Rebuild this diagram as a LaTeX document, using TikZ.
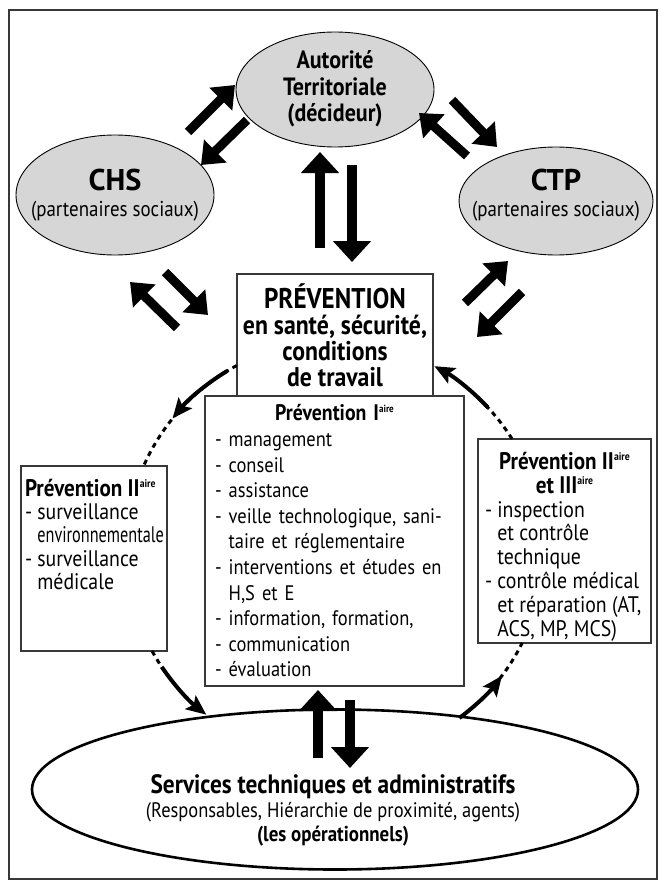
\documentclass[tikz,border=0pt]{standalone}
\usepackage{fontspec}
\usepackage{graphicx}
\setmainfont{PT Sans}[FakeStretch=0.88]
\usetikzlibrary{arrows.meta,shapes.geometric,calc}
\definecolor{shade}{gray}{0.84}
\definecolor{edge}{gray}{0.22}
\newcommand{\fsz}[2]{\fontsize{#1}{#2}\selectfont}
% small raised ordinal suffix, top aligned with the capitals
\newcommand{\aire}{\raisebox{0.36em}{\fontsize{0.46em}{1em}\selectfont aire}}
\newcommand{\ind}{\hphantom{- }}
\begin{document}
\begin{tikzpicture}[x=1pt,y=1pt,
  every node/.style={inner sep=0pt, outer sep=0pt},
  ell/.style={ellipse, draw=black, line width=0.9pt, fill=shade},
  pbox/.style={rectangle, draw=edge, line width=1.3pt, fill=white},
  fatarrow/.style={line width=10pt, -{Triangle[width=37pt,length=21pt]}},
  slantarrow/.style={line width=9pt, -{Triangle[width=31pt,length=20pt]}},
  cyclearrow/.style={line width=4pt, -{Stealth[length=20pt,width=17pt,inset=4pt]}},
  cycledash/.style={line width=3pt, dash pattern=on 5pt off 4.5pt},
]
\useasboundingbox (0,0) rectangle (663,-888);
% outer frame
\draw[edge, line width=1.4pt] (9,-10) rectangle (657,-879);

% decision and social partner bodies
\node[ell, minimum width=198pt, minimum height=115pt] (aut) at (335,-89.5) {};
\node[align=center, font=\fsz{25}{26.5}\bfseries] (autt) at (335,-89) {Autorité\\Territoriale\\(décideur)};
\node[ell, minimum width=198pt, minimum height=120pt] (chs) at (115,-195) {};
\node[align=center, font=\fsz{21.5}{26}] (chst) at (115,-195) {{\fsz{30}{30}\bfseries\scalebox{1.15}[1]{CHS}}\\(partenaires sociaux)};
\node[ell, minimum width=194pt, minimum height=108pt] (ctp) at (556,-201) {};
\node[align=center, font=\fsz{21.5}{26}] (ctpt) at (556,-195) {{\fsz{30}{30}\bfseries\scalebox{1.15}[1]{CTP}}\\(partenaires sociaux)};

% operational services
\node[ellipse, draw=black, line width=2.6pt, minimum width=606pt, minimum height=160pt] (svc) at (335,-789.5) {};
\node[align=center, font=\fsz{21}{24}] (svct) at (333,-810) {{\fsz{26.5}{26}\bfseries Services techniques et administratifs}\\(Responsables, Hiérarchie de proximité, agents)\\{\fsz{21.5}{23}\bfseries (les opérationnels)}};

% central prevention boxes
\node[pbox, minimum width=196pt, minimum height=122pt, align=center, font=\fsz{27}{26}\bfseries] (prev) at (335,-335) {{\fsz{28.5}{26}PRÉVENTION}\\en santé, sécurité,\\conditions\\de travail};

\node[pbox, anchor=north west, minimum height=290pt, text width=239pt, inner xsep=10pt, align=left, font=\fsz{21}{25.6}] (p1) at (205,-396) {\makebox[239pt]{\bfseries\fsz{22.5}{25.6}Prévention I\aire}\\- management\\- conseil\\- assistance\\\mbox{- veille technologique, sani-}\\\ind taire et réglementaire\\\mbox{- interventions et études en}\\\ind H,S et E\\\mbox{- information, formation,}\\- communication\\- évaluation};

\node[pbox, anchor=north west, inner xsep=4pt, inner ysep=4pt] (p2) at (21,-466) {\parbox[c][177pt][t]{138pt}{\fsz{22.5}{23.3}\raggedright\vspace*{9pt}\mbox{\fsz{24}{23.3}\bfseries Prévention II\aire}\\- surveillance\\\ind\mbox{\scalebox{0.82}[1]{environnementale}}\\- surveillance\\\ind médicale}};

\node[pbox, anchor=north west, inner xsep=7pt, inner ysep=4pt] (p3) at (478,-439) {\parbox[c][196pt][t]{159pt}{\fsz{22.5}{23.9}\raggedright\vspace*{9pt}\makebox[159pt]{\fsz{24}{23.9}\bfseries Prévention II\aire}\\\makebox[159pt]{\fsz{24}{23.9}\bfseries et III\aire}\\- inspection\\\ind et contrôle\\\ind technique\\\mbox{- contrôle médical}\\\ind\mbox{et réparation (AT,}\\\ind ACS, MP, MCS)}};

% exchanges between the bodies
\coordinate (a1s) at (188,-132); \coordinate (a1e) at (235,-85);
\coordinate (a2s) at (247,-120); \coordinate (a2e) at (201,-165);
\coordinate (a3s) at (452,-100); \coordinate (a3e) at (497,-147);
\coordinate (a4s) at (467,-156); \coordinate (a4e) at (419,-113);
\coordinate (a5s) at (177,-328); \coordinate (a5e) at (130,-282);
\coordinate (a6s) at (165,-272); \coordinate (a6e) at (208,-315);
\coordinate (a7s) at (465,-303); \coordinate (a7e) at (508,-261);
\coordinate (a8s) at (522,-292); \coordinate (a8e) at (477,-337);
\foreach \k in {1,...,8} {\draw[slantarrow] (a\k s) -- (a\k e);}

\coordinate (v1s) at (320,-248); \coordinate (v1e) at (320,-152);
\coordinate (v2s) at (352,-165); \coordinate (v2e) at (352,-262);
\coordinate (v3s) at (318,-758); \coordinate (v3e) at (318,-690);
\coordinate (v4s) at (350,-700); \coordinate (v4e) at (350,-768);
\foreach \k in {1,...,4} {\draw[fatarrow] (v\k s) -- (v\k e);}

% prevention cycle
\coordinate (ring) at (335,-550);
\coordinate (d1) at ($(ring)+(118:209)$);
\coordinate (s1) at ($(ring)+(121:209)$);
\coordinate (d2) at ($(ring)+(208.9:209)$);
\coordinate (s2) at ($(ring)+(214:209)$);
\coordinate (s3) at ($(ring)+(-53.5:209)$);
\coordinate (d3) at ($(ring)+(-38:209)$);
\coordinate (d4) at ($(ring)+(32.1:209)$);
\coordinate (s4) at ($(ring)+(43:209)$);
\draw[cycledash] (d1) arc[start angle=118, end angle=156.3, radius=209];
\draw[cycledash] (d2) arc[start angle=208.9, end angle=215, radius=209];
\draw[cycledash] (d3) arc[start angle=-38, end angle=-26.4, radius=209];
\draw[cycledash] (d4) arc[start angle=32.1, end angle=44, radius=209];
\draw[cyclearrow] (s1) arc[start angle=121, end angle=141, radius=209];
\draw[cyclearrow] (s2) arc[start angle=214, end angle=232, radius=209];
\draw[cyclearrow] (s3) arc[start angle=-53.5, end angle=-37, radius=209];
\draw[cyclearrow] (s4) arc[start angle=43, end angle=61.6, radius=209];
\end{tikzpicture}
\end{document}
